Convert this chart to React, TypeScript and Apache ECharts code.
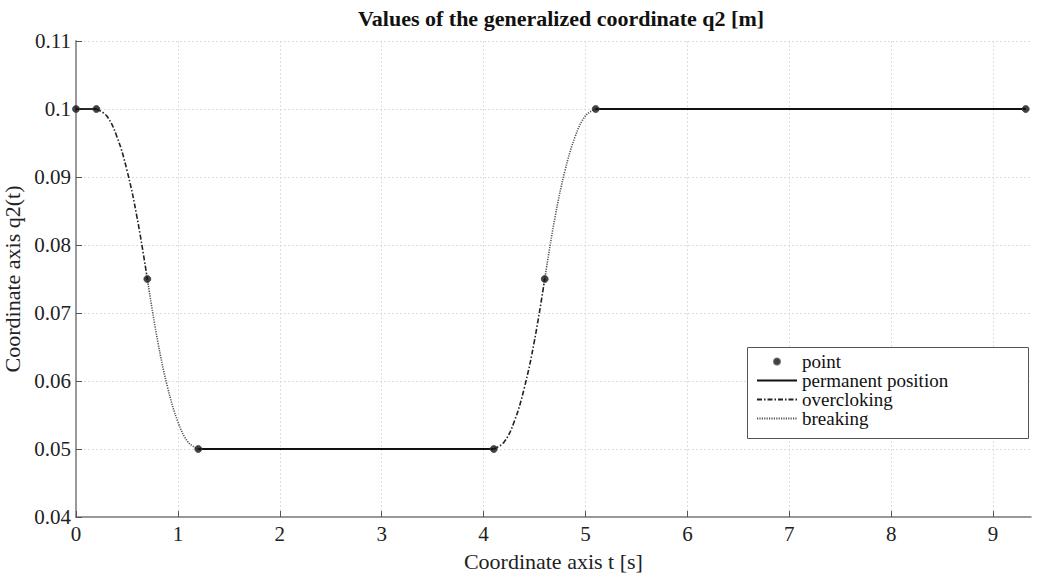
import React, { useEffect, useRef } from "react";
import * as echarts from "echarts";

const titleText = "Values of the generalized coordinate q2 [m]";
const xName = "Coordinate axis t [s]";
const yName = "Coordinate axis q2(t)";
const xTicks = [0, 1, 2, 3, 4, 5, 6, 7, 8, 9];
const legendNames = ["point", "permanent position", "overcloking", "breaking"];

const points: [number, number][] = [
  [0, 0.1], [0.2, 0.1], [0.7, 0.075], [1.2, 0.05],
  [4.1, 0.05], [4.6, 0.075], [5.1, 0.1], [9.32, 0.1],
];
const permanent1: [number, number][] = [[0, 0.1], [0.2, 0.1]];
const permanent2: [number, number][] = [[1.2, 0.05], [4.1, 0.05]];
const permanent3: [number, number][] = [[5.1, 0.1], [9.32, 0.1]];
const over1: [number, number][] = [
  [0.2, 0.1], [0.3, 0.099], [0.4, 0.096], [0.5, 0.091], [0.6, 0.084], [0.7, 0.075],
];
const brake1: [number, number][] = [
  [0.7, 0.075], [0.8, 0.066], [0.9, 0.059], [1.0, 0.054], [1.1, 0.051], [1.2, 0.05],
];
const over2: [number, number][] = [
  [4.1, 0.05], [4.2, 0.051], [4.3, 0.054], [4.4, 0.059], [4.5, 0.066], [4.6, 0.075],
];
const brake2: [number, number][] = [
  [4.6, 0.075], [4.7, 0.084], [4.8, 0.091], [4.9, 0.096], [5.0, 0.099], [5.1, 0.1],
];

const FONT = "'Liberation Serif', 'Times New Roman', serif";

export default function App() {
  const ref = useRef<HTMLDivElement>(null);
  useEffect(() => {
    const chart = echarts.init(ref.current!, null, { renderer: "svg" });
    const permStyle = { color: "#111", width: 1.8, type: "solid" as const };
    const overStyle = { color: "#222", width: 1.6, type: [5, 2, 1.5, 2] };
    const brakeStyle = { color: "#555", width: 1.6, type: [1.2, 1.2] };
    const lineSeries = (name: string, data: [number, number][], ls: any, smooth: any) => ({
      type: "line",
      name,
      data,
      symbol: "none",
      showSymbol: false,
      smooth,
      lineStyle: ls,
      itemStyle: { color: ls.color },
      z: 2,
    });
    chart.setOption({
      animation: false,
      backgroundColor: "#fff",
      textStyle: { fontFamily: FONT },
      title: {
        text: titleText,
        left: 556,
        top: 2,
        textAlign: "center",
        textStyle: { fontFamily: FONT, fontWeight: "bold", fontSize: 22, color: "#111" },
      },
      grid: { left: 76, top: 41, width: 954.8, height: 476, outerBoundsMode: "none", containLabel: false },
      legend: {
        orient: "vertical",
        left: 756,
        top: 352,
        padding: 0,
        itemWidth: 40,
        itemHeight: 6,
        itemGap: 0,
        textStyle: { fontFamily: FONT, fontSize: 19, color: "#111", lineHeight: 19 },
        data: legendNames.map((n, i) =>
          i === 0 ? { name: n } : { name: n, itemStyle: { opacity: 0, color: "rgba(0,0,0,0)", borderWidth: 0 } }
        ),
      },
      graphic: [
        {
          type: "rect",
          z: 3,
          shape: { x: 747.5, y: 347.5, width: 281, height: 91 },
          style: { fill: "#fff", stroke: "#555", lineWidth: 1 },
        },
      ],
      xAxis: {
        type: "value",
        min: 0,
        max: 9.37,
        interval: 1,
        name: xName,
        nameLocation: "middle",
        nameGap: 33,
        nameTextStyle: { fontFamily: FONT, fontSize: 22, color: "#222" },
        axisLine: { show: true, onZero: false, lineStyle: { color: "#999", width: 2 } },
        axisTick: { show: true, inside: true, length: 6, customValues: xTicks, lineStyle: { color: "#555" } },
        axisLabel: {
          customValues: xTicks,
          fontFamily: FONT,
          fontSize: 21,
          color: "#222",
          margin: 6,
        },
        splitLine: { show: true, lineStyle: { color: "#ddd", type: [2, 2] } },
      },
      yAxis: {
        type: "value",
        min: 0.04,
        max: 0.11,
        interval: 0.01,
        name: yName,
        nameLocation: "middle",
        nameGap: 46,
        nameTextStyle: { fontFamily: FONT, fontSize: 22, color: "#222" },
        axisLine: { show: true, lineStyle: { color: "#999", width: 2 } },
        axisTick: { show: true, inside: true, length: 6, lineStyle: { color: "#555" } },
        axisLabel: { fontFamily: FONT, fontSize: 21, color: "#222", margin: 5 },
        splitLine: { show: true, lineStyle: { color: "#ddd", type: [2, 2] } },
      },
      series: [
        {
          type: "scatter",
          name: "point",
          data: points,
          symbol: "circle",
          symbolSize: 7,
          itemStyle: { color: "#111", borderColor: "#444", borderWidth: 1 },
          z: 5,
        },
        lineSeries("permanent position", permanent1, permStyle, false),
        lineSeries("permanent position", permanent2, permStyle, false),
        lineSeries("permanent position", permanent3, permStyle, false),
        lineSeries("overcloking", over1, overStyle, 0.4),
        lineSeries("overcloking", over2, overStyle, 0.4),
        lineSeries("breaking", brake1, brakeStyle, 0.4),
        lineSeries("breaking", brake2, brakeStyle, 0.4),
      ],
    });
    return () => chart.dispose();
  }, []);
  return (
    <div
      ref={ref}
      style={{ position: "fixed", left: 0, top: 0, width: 1038, height: 573 }}
    />
  );
}
